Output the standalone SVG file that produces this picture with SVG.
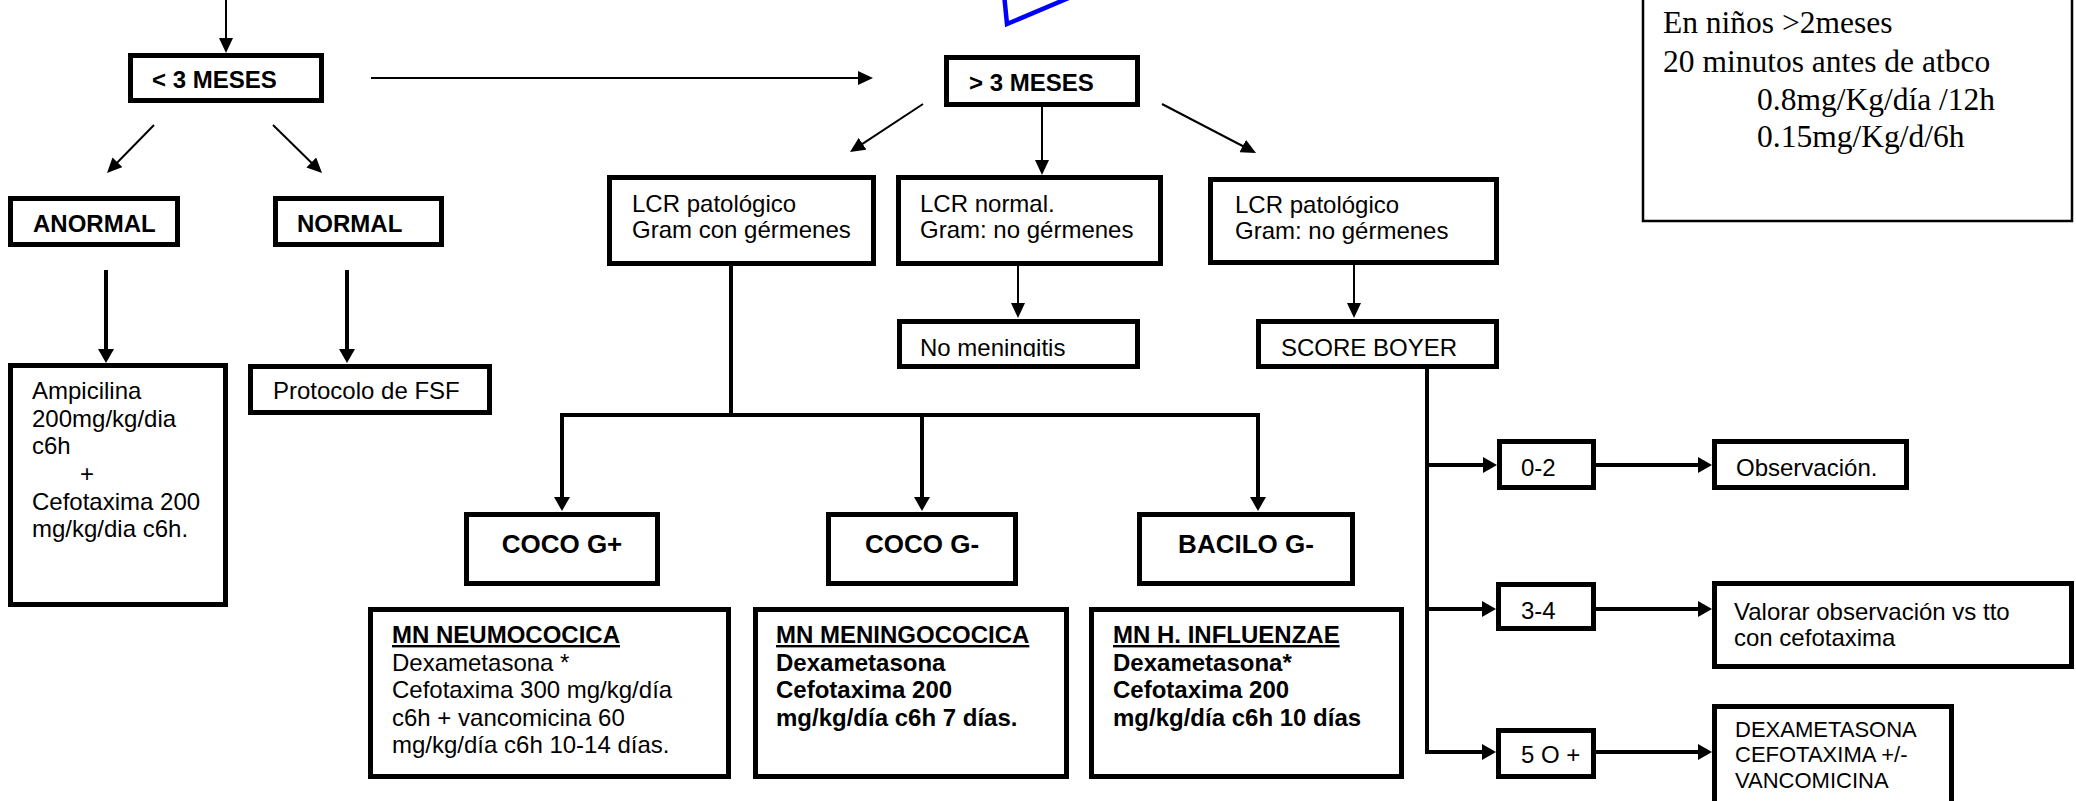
<svg xmlns="http://www.w3.org/2000/svg" width="2076" height="801" viewBox="0 0 2076 801">
<style>
.box{fill:#fff;stroke:#000;stroke-width:5}
.note{fill:#fff;stroke:#000;stroke-width:2.5}
.thin{fill:none;stroke:#000;stroke-width:2;marker-end:url(#ah)}
.thick{fill:none;stroke:#000;stroke-width:4}
.arr{marker-end:url(#ahb)}
.t{font-family:"Liberation Sans",Arial,sans-serif;font-size:24px;fill:#000}
.b{font-weight:bold}
.c{font-size:26px;text-anchor:middle}
.s{font-size:22px}
.u{text-decoration:underline}
.serif{font-family:"Liberation Serif","Times New Roman",serif;font-size:31.5px;fill:#000}
</style>
<defs>
<marker id="ah" markerUnits="userSpaceOnUse" markerWidth="15" markerHeight="14" refX="1" refY="7" orient="auto"><path d="M0,0 L15,7 L0,14 z" fill="#000"/></marker>
<marker id="ahb" markerUnits="userSpaceOnUse" markerWidth="14" markerHeight="16" refX="1" refY="8" orient="auto"><path d="M0,0 L14,8 L0,16 z" fill="#000"/></marker>
<clipPath id="clipNM"><rect x="899" y="320" width="240" height="37"/></clipPath>
</defs>

<g id="connectors">
<path class="thin" d="M226,0 V39"/>
<path class="thin" d="M371,78 H859"/>
<path class="thin" d="M154,125 L116.8,163"/>
<path class="thin" d="M273,125 L312,163.2"/>
<path class="thin" d="M923,104 L861.7,144.3"/>
<path class="thin" d="M1042,107 V161"/>
<path class="thin" d="M1162,104 L1243.6,146.5"/>
<path class="thin" d="M1018,266 V304"/>
<path class="thin" d="M1354,265 V304"/>
<path class="thick arr" d="M106,270 V350"/>
<path class="thick arr" d="M347,270 V350"/>
<path class="thick" d="M731,266 V415"/>
<path class="thick" d="M562,415 H1258" stroke-linecap="square"/>
<path class="thick arr" d="M562,415 V498"/>
<path class="thick arr" d="M922,415 V498"/>
<path class="thick arr" d="M1258,415 V498"/>
<path class="thick arr" d="M1427,369 V752 H1483" stroke-linejoin="miter"/>
<path class="thick arr" d="M1427,465 H1484"/>
<path class="thick arr" d="M1427,609 H1483"/>
<path class="thick arr" d="M1596,465 H1699"/>
<path class="thick arr" d="M1596,609 H1699"/>
<path class="thick arr" d="M1596,752 H1699"/>
</g>

<g id="blue-shape">
<path d="M1004,-6 L1007,24 L1078,-6" fill="none" stroke="#0000ff" stroke-width="4.5" stroke-linejoin="miter"/>
</g>

<g id="menos3">
<rect class="box" x="130.5" y="55.5" width="191" height="45"/>
<text class="t b" x="152" y="88">&lt; 3 MESES</text>
</g>
<g id="anormal">
<rect class="box" x="10.5" y="198.5" width="167" height="46"/>
<text class="t b" x="33" y="232">ANORMAL</text>
</g>
<g id="normal">
<rect class="box" x="275.5" y="198.5" width="166" height="46"/>
<text class="t b" x="297" y="232">NORMAL</text>
</g>
<g id="ampicilina">
<rect class="box" x="10.5" y="365.5" width="215" height="239"/>
<text class="t" x="32" y="399">Ampicilina</text>
<text class="t" x="32" y="427">200mg/kg/dia</text>
<text class="t" x="32" y="454">c6h</text>
<text class="t" x="80" y="482">+</text>
<text class="t" x="32" y="510">Cefotaxima 200</text>
<text class="t" x="32" y="537">mg/kg/dia c6h.</text>
</g>
<g id="protocolo">
<rect class="box" x="250.5" y="366.5" width="239" height="46"/>
<text class="t" x="273" y="399">Protocolo de FSF</text>
</g>

<g id="mas3">
<rect class="box" x="946.5" y="57.5" width="191" height="47"/>
<text class="t b" x="969" y="91">&gt; 3 MESES</text>
</g>
<g id="lcr1">
<rect class="box" x="609.5" y="177.5" width="264" height="86"/>
<text class="t" x="632" y="212">LCR patológico</text>
<text class="t" x="632" y="238">Gram con gérmenes</text>
</g>
<g id="lcr2">
<rect class="box" x="898.5" y="177.5" width="262" height="86"/>
<text class="t" x="920" y="212">LCR normal.</text>
<text class="t" x="920" y="238">Gram: no gérmenes</text>
</g>
<g id="lcr3">
<rect class="box" x="1210.5" y="179.5" width="286" height="83"/>
<text class="t" x="1235" y="213">LCR patológico</text>
<text class="t" x="1235" y="239">Gram: no gérmenes</text>
</g>
<g id="nomen">
<rect class="box" x="899.5" y="321.5" width="238" height="45"/>
<text class="t" x="920" y="356" clip-path="url(#clipNM)">No meningitis</text>
</g>
<g id="score">
<rect class="box" x="1258.5" y="321.5" width="238" height="45"/>
<text class="t" x="1281" y="356">SCORE BOYER</text>
</g>

<g id="cocogpos">
<rect class="box" x="466.5" y="514.5" width="191" height="69"/>
<text class="t b c" x="562" y="553">COCO G+</text>
</g>
<g id="cocogneg">
<rect class="box" x="828.5" y="514.5" width="187" height="69"/>
<text class="t b c" x="922" y="553">COCO G-</text>
</g>
<g id="bacilo">
<rect class="box" x="1139.5" y="514.5" width="213" height="69"/>
<text class="t b c" x="1246" y="553">BACILO G-</text>
</g>

<g id="neumo">
<rect class="box" x="370.5" y="609.5" width="358" height="167"/>
<text class="t b u" x="392" y="643">MN NEUMOCOCICA</text>
<text class="t" x="392" y="671">Dexametasona *</text>
<text class="t" x="392" y="698">Cefotaxima 300 mg/kg/día</text>
<text class="t" x="392" y="726">c6h + vancomicina 60</text>
<text class="t" x="392" y="753">mg/kg/día c6h 10-14 días.</text>
</g>
<g id="meningo">
<rect class="box" x="755.5" y="609.5" width="311" height="167"/>
<text class="t b u" x="776" y="643">MN MENINGOCOCICA</text>
<text class="t b" x="776" y="671">Dexametasona</text>
<text class="t b" x="776" y="698">Cefotaxima 200</text>
<text class="t b" x="776" y="726">mg/kg/día c6h 7 días.</text>
</g>
<g id="hinfl">
<rect class="box" x="1091.5" y="609.5" width="310" height="167"/>
<text class="t b u" x="1113" y="643">MN H. INFLUENZAE</text>
<text class="t b" x="1113" y="671">Dexametasona*</text>
<text class="t b" x="1113" y="698">Cefotaxima 200</text>
<text class="t b" x="1113" y="726">mg/kg/día c6h 10 días</text>
</g>

<g id="s02">
<rect class="box" x="1499.5" y="441.5" width="94" height="46"/>
<text class="t" x="1521" y="476">0-2</text>
</g>
<g id="obs">
<rect class="box" x="1714.5" y="441.5" width="192" height="46"/>
<text class="t" x="1736" y="476">Observación.</text>
</g>
<g id="s34">
<rect class="box" x="1498.5" y="584.5" width="95" height="44"/>
<text class="t" x="1521" y="619">3-4</text>
</g>
<g id="valorar">
<rect class="box" x="1714.5" y="583.5" width="357" height="83"/>
<text class="t" x="1734" y="620">Valorar observación vs tto</text>
<text class="t" x="1734" y="646">con cefotaxima</text>
</g>
<g id="s5">
<rect class="box" x="1498.5" y="730.5" width="95" height="46"/>
<text class="t" x="1521" y="763">5 O +</text>
</g>
<g id="dexa">
<rect class="box" x="1714.5" y="706.5" width="237" height="120"/>
<text class="t s" x="1735" y="737">DEXAMETASONA</text>
<text class="t s" x="1735" y="762">CEFOTAXIMA +/-</text>
<text class="t s" x="1735" y="788">VANCOMICINA</text>
</g>

<g id="nota">
<rect class="note" x="1643" y="-5" width="429" height="226"/>
<text class="serif" x="1663" y="33">En niños &gt;2meses</text>
<text class="serif" x="1663" y="72">20 minutos antes de atbco</text>
<text class="serif" x="1757" y="110">0.8mg/Kg/día /12h</text>
<text class="serif" x="1757" y="147">0.15mg/Kg/d/6h</text>
</g>
</svg>
